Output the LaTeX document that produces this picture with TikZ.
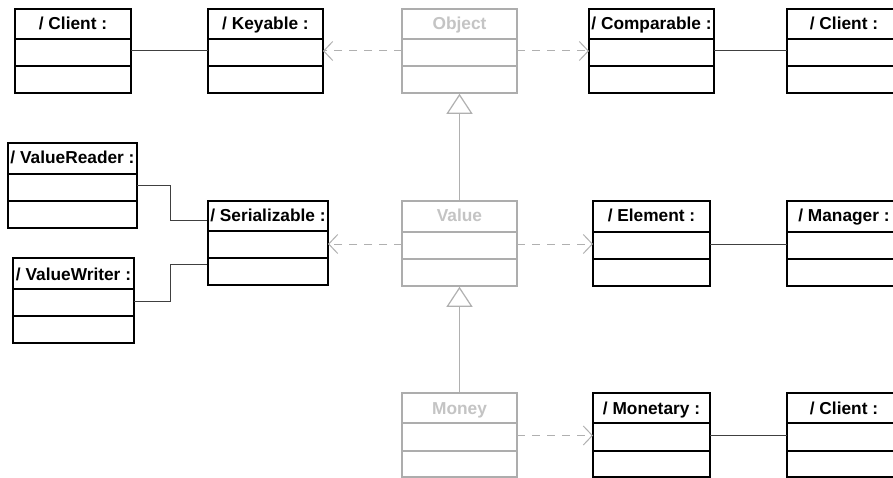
\documentclass[tikz,border=0pt]{standalone}
\usepackage{fontspec}
\setmainfont{Liberation Sans}
\usetikzlibrary{arrows.meta,fit,calc}
\definecolor{gbox}{HTML}{ADADAD}
\definecolor{gtext}{HTML}{C4C4C4}
\definecolor{gline}{HTML}{B0B0B0}
\definecolor{cline}{HTML}{404040}
\tikzset{
  boxline/.style={line width=1.6pt},
  hdr/.style={font=\bfseries\fontsize{17.3}{19}\selectfont, inner sep=0pt, anchor=base},
  assoc/.style={draw=cline, line width=1pt},
  dep/.style={draw=gline, line width=1pt, dash pattern=on 8pt off 7pt,
    -{Straight Barb[length=9pt,width=19pt,line width=1pt]}},
  inh/.style={draw=gline, line width=1pt,
    -{Triangle[open,length=20pt,width=26pt,line width=1.2pt,fill=white]}}
}
% name, colour, textcolour, x1, x2, ytop, y1, y2, ybot
\newcommand\umlclass[9]{%
  \node[fit={(#4,#6)(#5,#9)}, inner sep=0pt, draw=#2, boxline] (#1) {};
  \draw[draw=#2, boxline] (#4,#7) -- (#5,#7) (#4,#8) -- (#5,#8);
  \coordinate (#1-L) at (#4,{(#7+#8)/2-1.5});
  \coordinate (#1-R) at (#5,{(#7+#8)/2-1.5});
}
\begin{document}
\begin{tikzpicture}[x=1pt,y=-1pt]
\clip (0,0) rectangle (893,478);
\fill[white] (0,0) rectangle (893,478);
% top row
\umlclass{clientA}{black}{black}{15}{131}{9}{39}{66}{93}
\umlclass{keyable}{black}{black}{208}{323}{9}{39}{66}{93}
\umlclass{object}{gbox}{gtext}{402}{517}{9}{39}{66}{93}
\umlclass{comparable}{black}{black}{589}{714}{9}{39}{66}{93}
\umlclass{clientB}{black}{black}{787}{901}{9}{39}{66}{93}
% middle row
\umlclass{vreader}{black}{black}{8}{137}{143}{174}{201}{228}
\umlclass{serial}{black}{black}{208}{328}{201}{231}{258}{285}
\umlclass{vwriter}{black}{black}{13}{134}{258}{289}{316}{343}
\umlclass{value}{gbox}{gtext}{402}{517}{201}{232}{259}{286}
\umlclass{element}{black}{black}{593}{710}{201}{232}{259}{286}
\umlclass{manager}{black}{black}{787}{901}{201}{232}{259}{286}
% bottom row
\umlclass{money}{gbox}{gtext}{402}{517}{393}{423}{451}{477}
\umlclass{monetary}{black}{black}{593}{710}{393}{423}{451}{477}
\umlclass{clientC}{black}{black}{787}{901}{393}{423}{451}{477}
% titles
\node[hdr] (clientA-t) at (73,29.5) {/ Client :};
\node[hdr] (keyable-t) at (265.5,29.5) {/ Keyable :};
\node[hdr, text=gtext] (object-t) at (459.5,29.5) {Object};
\node[hdr] (comparable-t) at (651.5,29.5) {/ Comparable :};
\node[hdr] (clientB-t) at (844,29.5) {/ Client :};
\node[hdr] (vreader-t) at (72.5,163.5) {/ ValueReader :};
\node[hdr] (serial-t) at (268,221.5) {/ Serializable :};
\node[hdr] (vwriter-t) at (73.5,280) {/ ValueWriter :};
\node[hdr, text=gtext] (value-t) at (459.5,222) {Value};
\node[hdr] (element-t) at (651.5,222) {/ Element :};
\node[hdr] (manager-t) at (844,222) {/ Manager :};
\node[hdr, text=gtext] (money-t) at (459.5,414) {Money};
\node[hdr] (monetary-t) at (651.5,414) {/ Monetary :};
\node[hdr] (clientC-t) at (844,414) {/ Client :};
% associations
\draw[assoc] (clientA-R) -- (keyable-L);
\draw[assoc] (comparable-R) -- (clientB-L);
\draw[assoc] (element-R) -- (manager-L);
\draw[assoc] (monetary-R) -- (clientC-L);
\coordinate (bendR) at (170,221);
\coordinate (bendW) at (170,264);
\draw[assoc] (vreader-R) -| (bendR) -- (bendR -| serial.west);
\draw[assoc] (vwriter-R) -| (bendW) -- (bendW -| serial.west);
% dependencies
\draw[dep] (object-L) -- (keyable-R);
\draw[dep] (object-R) -- (comparable-L);
\draw[dep] (value-L) -- (serial-R |- value-L);
\draw[dep] (value-R) -- (element-L);
\draw[dep] (money-R) -- (monetary-L);
% generalisations
\draw[inh] (value.north) -- (object.south);
\draw[inh] (money.north) -- (value.south);
\end{tikzpicture}
\end{document}
